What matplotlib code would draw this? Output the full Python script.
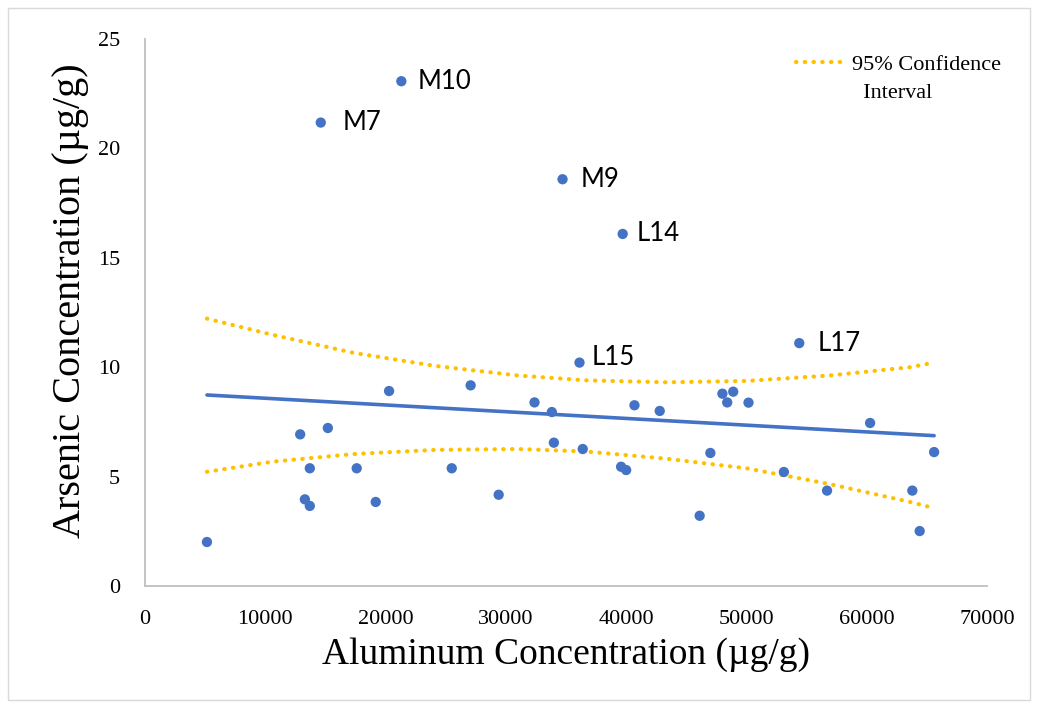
import matplotlib
matplotlib.use("Agg")
import matplotlib.pyplot as plt
from matplotlib.lines import Line2D
from matplotlib.patches import Rectangle

plt.rcParams["font.family"] = "Liberation Serif"

# unlabeled samples
al = [5150, 12900, 15200, 13700, 17600, 25500, 13290, 13700, 19180, 29400,
      20290, 27070, 32380, 33820, 33990, 36390, 40690, 42790, 39580, 40000,
      46110, 47000, 48000, 48900, 48400, 50170, 53110, 56700, 60280, 63790,
      64400, 65600]
ars = [2.01, 6.93, 7.22, 5.38, 5.38, 5.38, 3.96, 3.66, 3.84, 4.17,
       8.91, 9.17, 8.39, 7.95, 6.55, 6.26, 8.26, 8.00, 5.45, 5.30,
       3.21, 6.08, 8.79, 8.88, 8.39, 8.38, 5.21, 4.36, 7.45, 4.36,
       2.51, 6.12]

# labeled outliers
lab_names = ["M10", "M7", "M9", "L14", "L15", "L17"]
lab_al = [21310, 14610, 34710, 39710, 36120, 54390]
lab_ars = [23.07, 21.18, 18.59, 16.09, 10.21, 11.10]
lab_offsets = {"M10": (12, 0), "M7": (16, 0), "M9": (13, 0),
               "L14": (10, 0), "L15": (9, 4), "L17": (13, 0)}

# trend line end points
trend_al = [5150, 65600]
trend_ars = [8.73, 6.87]

# 95% confidence band
ci_al = [5150, 10600, 17300, 24100, 31000, 36600, 43300, 50000, 56900, 63600, 65600]
ci_upper = [12.22, 11.48, 10.66, 10.06, 9.62, 9.40, 9.31, 9.37, 9.62, 10.00, 10.21]
ci_lower = [5.22, 5.68, 6.03, 6.22, 6.26, 6.15, 5.82, 5.38, 4.66, 3.84, 3.56]

blue = "#4472C4"
gold = "#FFC000"
dots = (0, (0.1, 2.0))
dot_lw = 3.0

fig = plt.figure(figsize=(10.38, 7.09), dpi=100)
fig.patches.append(Rectangle((8 / 1038, 9 / 709), 1022 / 1038, 692 / 709,
                             transform=fig.transFigure, fill=False,
                             edgecolor="#D9D9D9", linewidth=1))
ax = fig.add_axes([0.1397, 0.1735, 0.8112, 0.7715])

ax.plot(ci_al, ci_upper, color=gold, lw=dot_lw, linestyle=dots,
        dash_capstyle="round", zorder=2)
ax.plot(ci_al, ci_lower, color=gold, lw=dot_lw, linestyle=dots,
        dash_capstyle="round", zorder=2)
ax.plot(trend_al, trend_ars, color=blue, lw=2.6, solid_capstyle="round", zorder=3)
ax.scatter(al, ars, s=55, color=blue, edgecolors="none", zorder=4)
ax.scatter(lab_al, lab_ars, s=55, color=blue, edgecolors="none", zorder=4)

for name, x, y in zip(lab_names, lab_al, lab_ars):
    ax.annotate(name, (x, y), xytext=lab_offsets[name], textcoords="offset points",
                ha="left", va="center", fontsize=18.5, family="Lato", color="black")

ax.set_xlim(0, 70000)
ax.set_ylim(0, 25)
ax.set_xticks(range(0, 70001, 10000))
ax.set_yticks(range(0, 26, 5))
ax.tick_params(axis="both", length=0, labelsize=16)
ax.tick_params(axis="x", pad=17)
ax.tick_params(axis="y", pad=18)
for s in ["top", "right"]:
    ax.spines[s].set_visible(False)
for s in ["left", "bottom"]:
    ax.spines[s].set_color("#BFBFBF")
    ax.spines[s].set_linewidth(1.3)

ax.set_xlabel("Aluminum Concentration (µg/g)", fontsize=27, labelpad=6)
ax.set_ylabel("Arsenic Concentration (µg/g)", fontsize=29)
ax.yaxis.set_label_coords(-0.066, 0.522)

handles = [Line2D([], [], color=gold, lw=dot_lw, linestyle=dots, dash_capstyle="round"),
           Line2D([], [], color="none")]
ax.legend(handles, ["95% Confidence", "  Interval"], loc="upper left",
          bbox_to_anchor=(785 / 1038, 1 - 43 / 709), bbox_transform=fig.transFigure,
          frameon=False, fontsize=16, handlelength=2.0, handletextpad=0.5,
          borderpad=0, labelspacing=0.35)

fig.savefig("out.png", dpi=100)
